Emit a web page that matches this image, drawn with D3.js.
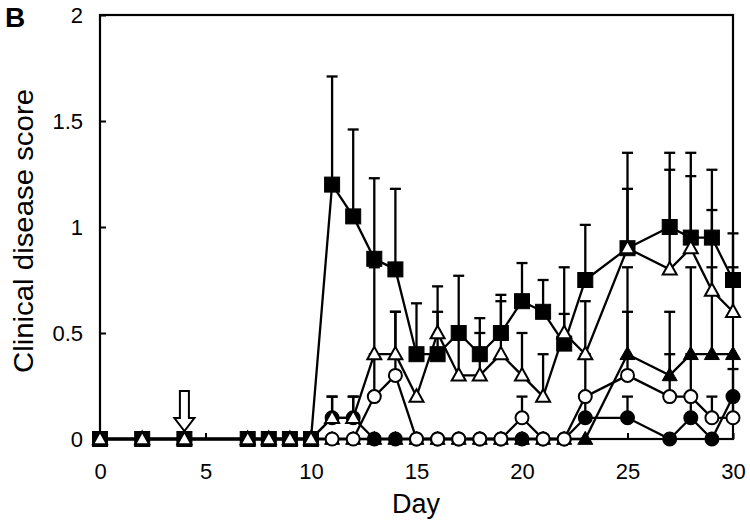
<!DOCTYPE html>
<html>
<head>
<meta charset="utf-8">
<script src="https://cdn.jsdelivr.net/npm/d3@7"></script>
<style>
  body { margin: 0; background: #fff; }
  svg { display: block; font-family: "Liberation Sans", Arial, sans-serif; }
</style>
</head>
<body>
<div id="chart"></div>
<script>
var width = 750, height = 525;

// days measured
var days = [0, 2, 4, 7, 8, 9, 10, 11, 12, 13, 14, 15, 16, 17, 18, 19, 20, 21, 22, 23, 25, 27, 28, 29, 30];

// filled squares
var sqMean = [0, 0, 0, 0, 0, 0, 0, 1.2, 1.05, 0.85, 0.8, 0.4, 0.4, 0.5, 0.4, 0.5, 0.65, 0.6, 0.45, 0.75, 0.9, 1.0, 0.95, 0.95, 0.75];
var sqErr  = [0, 0, 0, 0, 0, 0, 0, 0.51, 0.41, 0.38, 0.38, 0.24, 0.2, 0.27, 0.17, 0.18, 0.18, 0.15, 0.36, 0.26, 0.45, 0.35, 0.4, 0.32, 0.22];
// open triangles
var otMean = [0, 0, 0, 0, 0, 0, 0, 0.1, 0.1, 0.4, 0.4, 0.2, 0.5, 0.3, 0.3, 0.4, 0.3, 0.2, 0.5, 0.4, 0.9, 0.8, 0.9, 0.7, 0.6];
var otErr  = [0, 0, 0, 0, 0, 0, 0, 0.1, 0.1, 0.41, 0.2, 0, 0.22, 0.2, 0.2, 0.25, 0.2, 0.2, 0.09, 0.25, 0.28, 0.47, 0.34, 0.38, 0.21];
// open circles
var ocMean = [0, 0, 0, 0, 0, 0, 0, 0, 0, 0.2, 0.3, 0, 0, 0, 0, 0, 0.1, 0, 0, 0.2, 0.3, 0.2, 0.2, 0.1, 0.1];
var ocErr  = [0, 0, 0, 0, 0, 0, 0, 0, 0, 0.2, 0.3, 0, 0, 0, 0, 0, 0.1, 0, 0, 0.2, 0.3, 0.2, 0.2, 0.1, 0.23];
// filled circles
var fcMean = [0, 0, 0, 0, 0, 0, 0, 0.1, 0.1, 0, 0, 0, 0, 0, 0, 0, 0, 0, 0, 0.1, 0.1, 0, 0.1, 0, 0.2];
var fcErr  = [0, 0, 0, 0, 0, 0, 0, 0.1, 0.1, 0, 0, 0, 0, 0, 0, 0, 0, 0, 0, 0.1, 0.1, 0, 0.1, 0, 0];
// filled triangles
var ftMean = [0, 0, 0, 0, 0, 0, 0, 0, 0, 0, 0, 0, 0, 0, 0, 0, 0, 0, 0, 0, 0.4, 0.3, 0.4, 0.4, 0.4];
var ftErr  = [0, 0, 0, 0, 0, 0, 0, 0, 0, 0, 0, 0, 0, 0, 0, 0, 0, 0, 0, 0, 0.41, 0.3, 0.41, 0.41, 0];

var xTicks = [0, 5, 10, 15, 20, 25, 30];
var yTicks = [0, 0.5, 1, 1.5, 2];
var arrowDay = 4;

// drawing order: bottom first
var series = [
  { mean: ftMean, err: ftErr, shape: "tri", fill: "#000" },
  { mean: fcMean, err: fcErr, shape: "circle", fill: "#000" },
  { mean: ocMean, err: ocErr, shape: "circle", fill: "#fff" },
  { mean: sqMean, err: sqErr, shape: "square", fill: "#000" },
  { mean: otMean, err: otErr, shape: "tri", fill: "#fff" }
];

var svg = d3.select("#chart").append("svg")
  .attr("width", width)
  .attr("height", height);

var x = d3.scaleLinear().domain([0, 30]).range([100, 733]);
var y = d3.scaleLinear().domain([0, 2]).range([439, 15]);

// axes with inward ticks
var fmt = function (d) { return String(d); };
var gy = svg.append("g").attr("transform", "translate(" + x(0) + ",0)")
  .call(d3.axisLeft(y).tickValues(yTicks).tickFormat(fmt).tickSizeInner(-6).tickSizeOuter(0).tickPadding(17));
var gx = svg.append("g").attr("transform", "translate(0," + y(0) + ")")
  .call(d3.axisBottom(x).tickValues(xTicks).tickFormat(fmt).tickSizeInner(-6).tickSizeOuter(0).tickPadding(24));
[gy, gx].forEach(function (g) {
  g.select(".domain").remove();
  g.selectAll(".tick line").attr("stroke", "#000").attr("stroke-width", 2);
  g.selectAll(".tick text").attr("fill", "#000").style("font-size", "22px");
});

// frame
svg.append("rect")
  .attr("x", x(0)).attr("y", y(2))
  .attr("width", x(30) - x(0)).attr("height", y(0) - y(2))
  .attr("fill", "none").attr("stroke", "#000").attr("stroke-width", 2.2);

// error bars (upper only)
var capW = 5.5;
series.forEach(function (s) {
  var pts = days.map(function (d, i) { return { d: d, m: s.mean[i], e: s.err[i] }; })
    .filter(function (p) { return p.e > 0; });
  var g = svg.append("g").attr("stroke", "#000").attr("stroke-width", 2.3);
  g.selectAll("line.v").data(pts).enter().append("line")
    .attr("x1", function (p) { return x(p.d); }).attr("x2", function (p) { return x(p.d); })
    .attr("y1", function (p) { return y(p.m); }).attr("y2", function (p) { return y(p.m + p.e); });
  g.selectAll("line.c").data(pts).enter().append("line")
    .attr("x1", function (p) { return x(p.d) - capW; }).attr("x2", function (p) { return x(p.d) + capW; })
    .attr("y1", function (p) { return y(p.m + p.e); }).attr("y2", function (p) { return y(p.m + p.e); });
});

// lines + markers
var line = d3.line().x(function (p) { return x(p[0]); }).y(function (p) { return y(p[1]); });
function triPath(w, h) {
  return "M0," + (-h * 2 / 3) + "L" + (w / 2) + "," + (h / 3) + "L" + (-w / 2) + "," + (h / 3) + "Z";
}
series.forEach(function (s) {
  var pts = days.map(function (d, i) { return [d, s.mean[i]]; });
  svg.append("path").datum(pts).attr("d", line)
    .attr("fill", "none").attr("stroke", "#000").attr("stroke-width", 2.3);
});
series.forEach(function (s) {
  var pts = days.map(function (d, i) { return [d, s.mean[i]]; });
  var g = svg.append("g");
  var sel = g.selectAll(".m").data(pts).enter();
  if (s.shape === "square") {
    sel.append("rect")
      .attr("x", function (p) { return x(p[0]) - 7.5; }).attr("y", function (p) { return y(p[1]) - 7.5; })
      .attr("width", 15).attr("height", 15)
      .attr("fill", s.fill).attr("stroke", "#000").attr("stroke-width", 1);
  } else if (s.shape === "circle") {
    sel.append("circle")
      .attr("cx", function (p) { return x(p[0]); }).attr("cy", function (p) { return y(p[1]); })
      .attr("r", 6.5)
      .attr("fill", s.fill).attr("stroke", "#000").attr("stroke-width", 2);
  } else {
    sel.append("path")
      .attr("transform", function (p) { return "translate(" + x(p[0]) + "," + (y(p[1]) + 1) + ")"; })
      .attr("d", s.fill === "#000" ? triPath(15, 13) : triPath(14, 12.5))
      .attr("fill", s.fill).attr("stroke", "#000").attr("stroke-width", s.fill === "#000" ? 1 : 2);
  }
});

// hollow arrow at injection day
var ax = x(arrowDay);
var ay0 = 391, ay1 = 418, ay2 = 431;
svg.append("path")
  .attr("d", "M" + (ax - 4.5) + "," + ay0 + "L" + (ax + 4.5) + "," + ay0 + "L" + (ax + 4.5) + "," + ay1 +
    "L" + (ax + 10) + "," + ay1 + "L" + ax + "," + ay2 + "L" + (ax - 10) + "," + ay1 +
    "L" + (ax - 4.5) + "," + ay1 + "Z")
  .attr("fill", "#fff").attr("stroke", "#000").attr("stroke-width", 2);

// titles
svg.append("text").attr("x", 416).attr("y", 513)
  .attr("text-anchor", "middle").style("font-size", "27px").text("Day");
svg.append("text")
  .attr("transform", "translate(33,231) rotate(-90)")
  .attr("text-anchor", "middle").style("font-size", "27px")
  .attr("textLength", 284).attr("lengthAdjust", "spacingAndGlyphs")
  .text("Clinical disease score");
svg.append("text").attr("x", 5).attr("y", 27)
  .style("font-size", "28px").style("font-weight", "bold").text("B");
</script>
</body>
</html>
